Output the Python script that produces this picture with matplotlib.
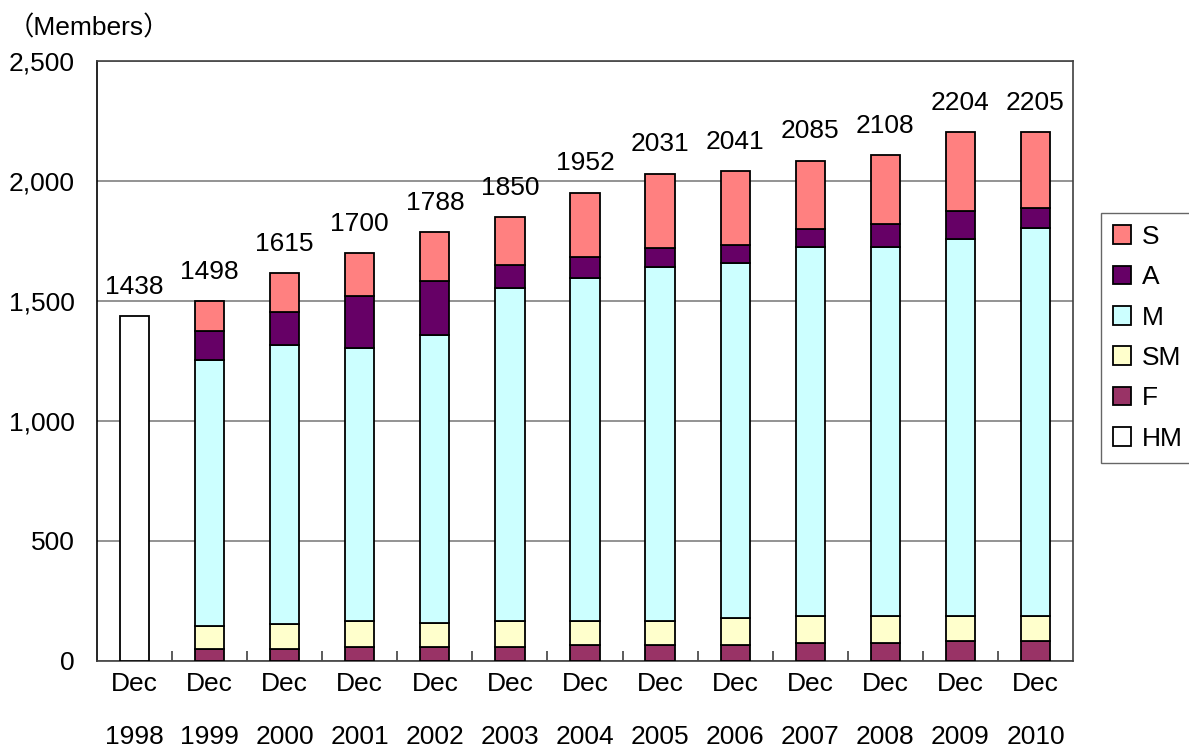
import numpy as np
import matplotlib.pyplot as plt

plt.rcParams['font.family'] = ['Liberation Sans', 'Noto Sans CJK JP', 'DejaVu Sans']

years = ['1998', '1999', '2000', '2001', '2002', '2003', '2004',
         '2005', '2006', '2007', '2008', '2009', '2010']
hm = [1438, 0, 0, 0, 0, 0, 0, 0, 0, 0, 0, 0, 0]
f = [0, 50, 50, 60, 60, 60, 67, 67, 67, 76, 76, 82, 82]
sm = [0, 96, 103, 108, 100, 108, 101, 101, 112, 111, 111, 105, 105]
m = [0, 1109, 1162, 1137, 1198, 1386, 1428, 1472, 1478, 1539, 1539, 1573, 1616]
a = [0, 120, 138, 217, 224, 96, 87, 80, 76, 76, 95, 113, 83]
s = [0, 123, 162, 178, 206, 200, 269, 311, 308, 283, 287, 331, 319]
totals = [1438, 1498, 1615, 1700, 1788, 1850, 1952, 2031, 2041, 2085, 2108, 2204, 2205]

series = [('HM', hm, '#FFFFFF'), ('F', f, '#993366'), ('SM', sm, '#FFFFCC'),
          ('M', m, '#CCFFFF'), ('A', a, '#660066'), ('S', s, '#FF8080')]

fig = plt.figure(figsize=(11.89, 7.47), dpi=100)
ax = fig.add_axes([97/1189, 1-661/747, (1073-97)/1189, (661-61)/747])

x = np.arange(len(years))
w = 0.39
bottom = np.zeros(len(years))
handles = {}
for name, vals, col in series:
    vals = np.array(vals, dtype=float)
    mask = vals > 0
    b = ax.bar(x[mask], vals[mask], w, bottom=bottom[mask], color=col,
               edgecolor='black', linewidth=1.3, zorder=3, label=name)
    handles[name] = b
    bottom += vals

for xi, t in zip(x, totals):
    ax.annotate(str(t), (xi, t), xytext=(0, 21), textcoords='offset points',
                ha='center', va='center', fontsize=19)

ax.set_xlim(-0.5, len(years) - 0.5)
ax.set_ylim(0, 2500)
ax.set_yticks([0, 500, 1000, 1500, 2000, 2500])
ax.set_yticklabels(['0', '500', '1,000', '1,500', '2,000', '2,500'], fontsize=19)
ax.yaxis.grid(True, color='#808080', linewidth=1.2, zorder=0)
ax.tick_params(axis='y', length=0, pad=16)

ax.set_xticks(x)
ax.set_xticklabels(['Dec\n' + y for y in years], fontsize=19, linespacing=2.5)
ax.tick_params(axis='x', which='major', length=0, pad=8)
ax.set_xticks(np.arange(0.5, len(years) - 0.5, 1), minor=True)
ax.tick_params(axis='x', which='minor', direction='in', length=7, color='#404040', width=1.2)

for sp in ax.spines.values():
    sp.set_color('#404040')
    sp.set_linewidth(1.2)
ax.spines['left'].set_color('black')

fig.text(8/1189, 1-28/747, '（Members）', fontsize=19, va='center', ha='left')

order = ['S', 'A', 'M', 'SM', 'F', 'HM']
leg = fig.legend([handles[k] for k in order], order, loc='upper left',
                 bbox_to_anchor=(1101/1189, 1-213/747), fontsize=19,
                 frameon=True, fancybox=False, edgecolor='#404040',
                 handlelength=0.7, handleheight=0.7, labelspacing=0.62,
                 handletextpad=0.4, borderpad=0.45, borderaxespad=0)
leg.get_frame().set_linewidth(1.0)

fig.savefig('out.png', dpi=100)
